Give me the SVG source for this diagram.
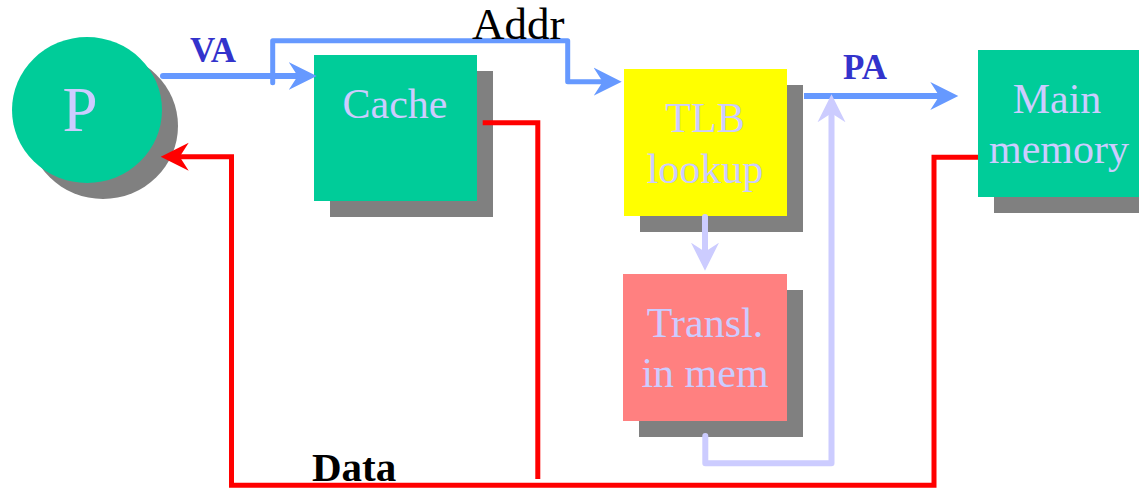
<svg xmlns="http://www.w3.org/2000/svg" width="1139" height="488" viewBox="0 0 1139 488">
  <style>
    .shadow { fill: #808080; }
    .green { fill: #00cc99; }
    .yellow { fill: #ffff00; }
    .salmon { fill: #ff8080; }
    .node-text { font-family: "Liberation Serif", "Times New Roman", serif; font-size: 42px; fill: #ccccff; text-anchor: middle; }
    .addr { stroke: #6699ff; fill: none; stroke-linejoin: round; stroke-linecap: round; }
    .data { stroke: #ff0000; fill: none; stroke-width: 5; stroke-linejoin: miter; }
    .xlat { stroke: #ccccff; fill: none; stroke-width: 6; stroke-linejoin: round; stroke-linecap: round; }
    .bus-label { font-family: "Liberation Serif", "Times New Roman", serif; font-weight: bold; font-size: 35px; fill: #3333cc; }
    .plain-label { font-family: "Liberation Serif", "Times New Roman", serif; font-size: 45px; fill: #000000; }
    .bold-label { font-family: "Liberation Serif", "Times New Roman", serif; font-weight: bold; font-size: 41px; fill: #000000; }
  </style>
  <defs>
    <!-- barbed arrowheads; the line ends 16px short of the tip -->
    <marker id="head-blue" viewBox="0 -15 30 30" refX="12" refY="0" markerUnits="userSpaceOnUse" markerWidth="30" markerHeight="30" orient="auto">
      <path d="M28,0 L0,-14 L9,0 L0,14 Z" fill="#6699ff"/>
    </marker>
    <marker id="head-red" viewBox="0 -15 30 30" refX="12" refY="0" markerUnits="userSpaceOnUse" markerWidth="30" markerHeight="30" orient="auto">
      <path d="M28,0 L0,-14 L9,0 L0,14 Z" fill="#ff0000"/>
    </marker>
    <marker id="head-lav" viewBox="0 -15 30 30" refX="12" refY="0" markerUnits="userSpaceOnUse" markerWidth="30" markerHeight="30" orient="auto">
      <path d="M28,0 L0,-14 L9,0 L0,14 Z" fill="#ccccff"/>
    </marker>
  </defs>

  <rect x="0" y="0" width="1139" height="488" fill="#ffffff"/>

  <!-- processor -->
  <g id="node-p">
    <ellipse class="shadow" cx="103" cy="126" rx="75" ry="73"/>
    <ellipse class="green" cx="87" cy="110" rx="75" ry="73"/>
    <text x="80" y="131" class="node-text" style="font-size:63px">P</text>
  </g>

  <!-- cache -->
  <g id="node-cache">
    <rect class="shadow" x="330" y="71" width="163" height="146"/>
    <rect class="green" x="314" y="55" width="163" height="146"/>
    <text x="395" y="118" class="node-text">Cache</text>
  </g>

  <!-- TLB -->
  <g id="node-tlb">
    <rect class="shadow" x="640" y="85" width="163" height="147"/>
    <rect class="yellow" x="624" y="69" width="163" height="147"/>
    <text x="705" y="132" class="node-text">TLB</text>
    <text x="705" y="183" class="node-text">lookup</text>
  </g>

  <!-- translation in memory -->
  <g id="node-transl">
    <rect class="shadow" x="639" y="290" width="164" height="147"/>
    <rect class="salmon" x="623" y="274" width="164" height="147"/>
    <text x="705" y="337" class="node-text">Transl.</text>
    <text x="705" y="387" class="node-text">in mem</text>
  </g>

  <!-- main memory -->
  <g id="node-main">
    <rect class="shadow" x="994" y="66" width="162" height="147"/>
    <rect class="green" x="978" y="50" width="162" height="147"/>
    <text x="1057" y="113" class="node-text">Main</text>
    <text x="1059" y="163" class="node-text">memory</text>
  </g>

  <g id="connectors">
    <!-- virtual address to cache -->
    <path class="addr" style="stroke-width:6" d="M163,76 L300.7,76" marker-end="url(#head-blue)"/>
    <!-- address to TLB -->
    <path class="addr" style="stroke-width:5" d="M272.7,82.7 L272.7,40.7 L567.7,40.7 L567.7,81.7 L605.7,81.7" marker-end="url(#head-blue)"/>
    <!-- physical address to main memory -->
    <path class="addr" style="stroke-width:6;stroke-linecap:butt" d="M804,96 L942.3,96" marker-end="url(#head-blue)"/>
    <!-- TLB miss to translation -->
    <path class="xlat" d="M705,217 L705,254.7" marker-end="url(#head-lav)"/>
    <!-- translation result to physical address -->
    <path class="xlat" d="M705.3,436 L705.3,463.3 L831.5,463.3 L831.5,110.3" marker-end="url(#head-lav)"/>
    <!-- data from cache -->
    <path class="data" d="M482.7,122.7 L537.8,122.7 L537.8,479"/>
    <!-- data from main memory back to processor -->
    <path class="data" d="M978,157.3 L934,157.3 L934,485.3 L231.5,485.3 L231.5,156.7 L176.7,156.7" marker-end="url(#head-red)"/>
  </g>

  <g id="labels">
    <text x="190" y="62" class="bus-label">VA</text>
    <text x="843" y="79" class="bus-label">PA</text>
    <text x="472" y="39" class="plain-label">Addr</text>
    <text x="312" y="481" class="bold-label">Data</text>
  </g>
</svg>
